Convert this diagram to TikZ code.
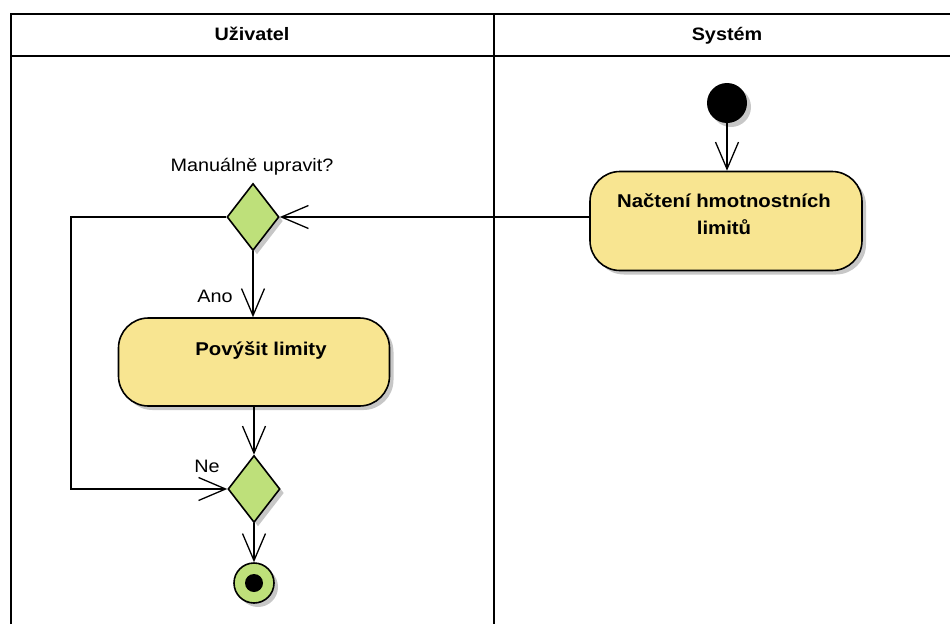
\documentclass[tikz,border=0pt]{standalone}
\usepackage{fontspec}
\setmainfont{Liberation Sans}[FakeStretch=1.1]
\usetikzlibrary{arrows.meta,shapes.geometric,shadows}
\definecolor{actfill}{RGB}{248,229,145}
\definecolor{decfill}{RGB}{190,224,122}

\tikzset{
  lane/.style={line width=1.8pt, black},
  lanehead/.style={font=\bfseries\fontsize{18}{20}\selectfont, inner sep=0pt, anchor=base},
  softshadow/.style={drop shadow={shadow xshift=4pt, shadow yshift=-4pt, opacity=0.22, fill=black}},
  actbox/.style={draw=black, line width=1.6pt, fill=actfill, rounded corners=30pt,
    inner sep=0pt, softshadow},
  acttext/.style={font=\bfseries\fontsize{18.5}{27}\selectfont, align=center, inner sep=0pt},
  decision/.style={diamond, draw=black, line width=1.6pt, fill=decfill, inner sep=0pt,
    minimum width=52pt, minimum height=67pt, softshadow},
  startdot/.style={circle, fill=black, inner sep=0pt, minimum size=40pt, softshadow},
  enddot/.style={circle, draw=black, line width=1.6pt, fill=decfill, inner sep=0pt,
    minimum size=40pt, softshadow},
  flow/.style={line width=1.3pt, black,
    -{Straight Barb[length=27pt, width=23pt, line width=1.3pt]}},
  guard/.style={font=\fontsize{18}{20}\selectfont, inner sep=0pt, anchor=base},
}

\begin{document}
\begin{tikzpicture}[x=1pt, y=-1pt]
  \useasboundingbox (0,0) rectangle (950,624);
  \clip (0,0) rectangle (950,624);

  % swimlane frame
  \draw[lane] (11,624) -- (11,14) -- (952,14);
  \draw[lane] (11,56) -- (952,56);
  \draw[lane] (494,14) -- (494,624);
  \node[lanehead] (hUser) at (252,40) {Uživatel};
  \node[lanehead] (hSys) at (727,40) {Systém};

  % system lane
  \node[startdot] (start) at (727,103) {};
  \node[actbox, minimum width=272pt, minimum height=99pt] (load) at (726,221) {};
  % base anchor of a two-line node sits on the last line
  \node[acttext, anchor=base] (loadtxt) at (724,234) {Načtení hmotnostních\\limitů};

  % user lane
  \node[decision] (dec1) at (253,217) {};
  \node[guard] (q) at (252,171) {Manuálně upravit?};
  \node[actbox, minimum width=271pt, minimum height=88pt] (raise) at (254,362) {};
  \node[acttext, anchor=base] (raisetxt) at (261,355) {Povýšit limity};
  \node[decision] (dec2) at (254,489) {};
  \node[enddot] (end) at (254,583) {};
  \fill[black] (end.center) circle (9pt);

  \coordinate (loopx) at (71,0);

  % control flow
  \draw[flow] (start) -- (load.north -| start);
  \draw[flow] (load.west |- dec1) -- (dec1.east);
  \draw[flow] (dec1.south) -- (raise.north -| dec1.south);
  \node[guard] (yes) at (215,302) {Ano};
  \draw[flow] (raise.south -| dec2.north) -- (dec2.north);
  \draw[flow] (dec1.west) -- (dec1.west -| loopx) -- (loopx |- dec2.west) -- (dec2.west);
  \node[guard] (no) at (207,472) {Ne};
  \draw[flow] (dec2.south) -- (end.north);
\end{tikzpicture}
\end{document}
